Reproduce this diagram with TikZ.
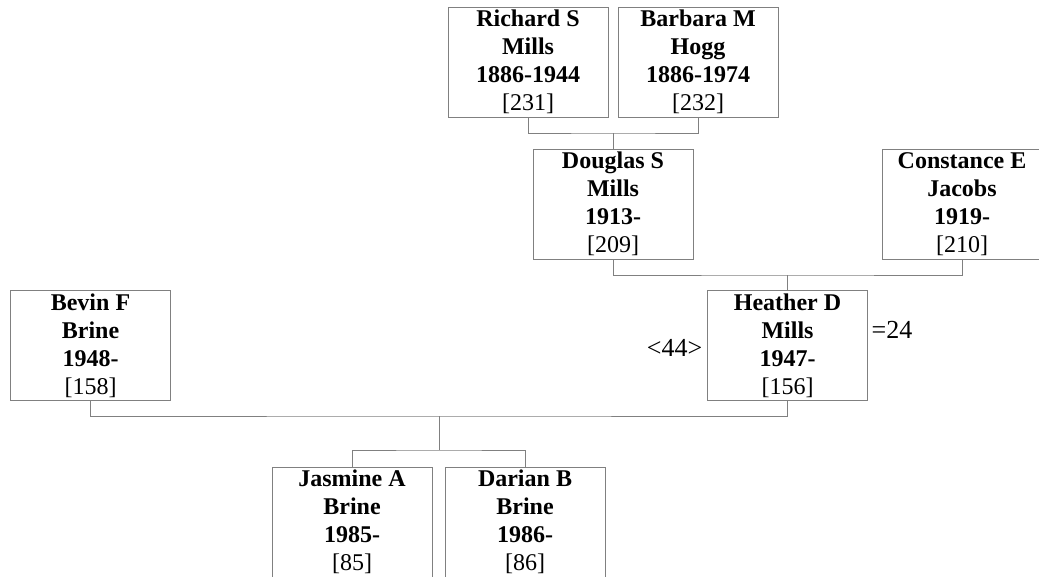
\documentclass[tikz,border=0pt]{standalone}
\usepackage{fontspec}
\setmainfont{Liberation Serif}
\definecolor{linegray}{RGB}{128,128,128}
\tikzset{
  person/.style={draw=linegray, line width=1pt, minimum width=160pt, minimum height=110pt,
    inner sep=0pt, align=center, font=\fontsize{24}{28}\selectfont},
  conn/.style={draw=linegray, line width=1pt},
  tag/.style={inner sep=0pt, font=\fontsize{26}{30}\selectfont}
}
\begin{document}
\begin{tikzpicture}[x=1pt,y=1pt]
\useasboundingbox (0,0) rectangle (1039,-576);
\node[person] (rich) at (528,-62) {\textbf{Richard S}\\\textbf{Mills}\\\textbf{1886-1944}\\{[231]}};
\node[person] (barb) at (698,-62) {\textbf{Barbara M}\\\textbf{Hogg}\\\textbf{1886-1974}\\{[232]}};
\node[person] (doug) at (613,-204) {\textbf{Douglas S}\\\textbf{Mills}\\\textbf{1913-}\\{[209]}};
\node[person] (cons) at (962,-204) {\textbf{Constance E}\\\textbf{Jacobs}\\\textbf{1919-}\\{[210]}};
\node[person] (bevin) at (90.5,-345.5) {\textbf{Bevin F}\\\textbf{Brine}\\\textbf{1948-}\\{[158]}};
\node[person] (heat) at (787.5,-345.5) {\textbf{Heather D}\\\textbf{Mills}\\\textbf{1947-}\\{[156]}};
\node[person] (jas) at (352,-522) {\textbf{Jasmine A}\\\textbf{Brine}\\\textbf{1985-}\\{[85]}};
\node[person] (dar) at (525,-522) {\textbf{Darian B}\\\textbf{Brine}\\\textbf{1986-}\\{[86]}};
\node[tag] (gen) at (674.5,-348) {<44>};
\node[tag] (eq) at (892,-330) {=24};
\coordinate (j1) at (613,-133);
\coordinate (j2) at (787.5,-275);
\coordinate (j3) at (439,-416);
\coordinate (j4) at (439,-450);
\draw[conn] (rich.south) |- (j1) -| (barb.south);
\draw[conn] (j1) -- (doug.north);
\draw[conn] (doug.south) |- (j2) -| (cons.south);
\draw[conn] (j2) -- (heat.north);
\draw[conn] (bevin.south) |- (j3) -| (heat.south);
\draw[conn] (j3) -- (j4);
\draw[conn] (jas.north) |- (j4) -| (dar.north);
\end{tikzpicture}
\end{document}
